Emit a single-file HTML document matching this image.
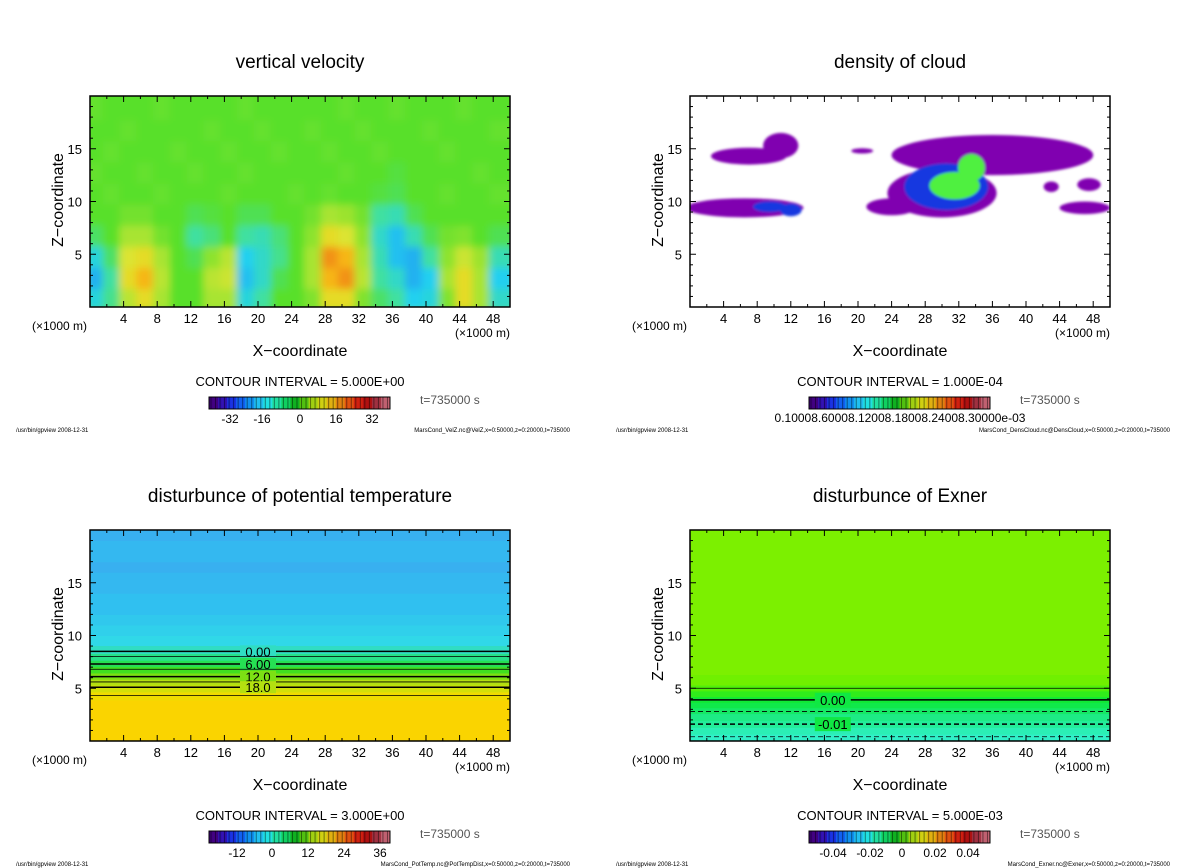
<!DOCTYPE html>
<html><head><meta charset="utf-8"><style>
html,body{margin:0;padding:0;background:#fff;}
svg{display:block;font-family:"Liberation Sans","DejaVu Sans",sans-serif;}
</style></head><body>
<svg id="s" width="1200" height="868" viewBox="0 0 1200 868" xmlns="http://www.w3.org/2000/svg">
<defs>
<filter id="blur" x="-5%" y="-5%" width="110%" height="110%"><feGaussianBlur stdDeviation="4"/></filter>
<filter id="blur2"><feGaussianBlur stdDeviation="1.2"/></filter>
</defs>
</svg>
<script>
// ---------- data ----------
const xTicks=[4,8,12,16,20,24,28,32,36,40,44,48];
const zTicks=[5,10,15];
// vertical velocity grid
const wRowZ=[1,3,5,7,9,11,13,15,17,19];
const wCols=[1,3,5,7,9,11,13,15,17,19,21,23,25,27,29,31,33,35,37,39,41,43,45,47,49];
const wVals=[
[-12,-5,8,14,6,0,0,6,6,-12,-6,0,0,3,14,14,3,-3,-6,-14,-12,3,14,6,-10],
[-18,-6,14,20,8,0,0,8,10,-16,-10,-2,0,6,20,24,8,-6,-10,-18,-14,6,14,6,-14],
[-12,-3,12,14,6,0,-2,4,8,-14,-10,-5,0,6,24,20,6,-8,-16,-18,-6,4,10,5,-8],
[-3,0,6,6,2,0,-6,-4,0,-6,-8,-4,0,4,14,12,4,-10,-16,-8,-2,2,3,0,-2],
[0,0,2,2,0,0,-2,-1,0,-2,-2,0,0,2,6,5,2,-6,-8,-2,0,0,0,0,0],
[0,1,0,0,1,0,0,0,1,0,0,0,1,0,1,0,0,-1,-2,0,0,1,0,0,1],
[1,0,0,1,0,0,1,0,0,1,0,0,0,0,0,1,0,0,-1,0,0,0,0,1,0],
[0,1,0,0,0,1,0,0,1,0,0,1,0,0,1,0,0,1,0,0,0,1,0,0,0],
[0,0,1,0,0,0,0,1,0,0,1,0,0,1,0,0,1,0,0,0,1,0,0,0,1],
[1,0,0,0,1,0,0,0,0,1,0,0,0,0,0,1,0,0,1,0,0,0,1,0,0]];
// cloud blobs
const cloudX=[7,10.8,6.5,20.5,36,30,24,47,47.5,43,30.5,31.5,33.5,9.5,12];
const cloudZ=[14.3,15.3,9.4,14.8,14.4,10.8,9.5,9.4,11.6,11.4,11.4,11.5,13.2,9.5,9.2];
const cloudRX=[4.5,2.1,7,1.3,12,6.5,3,3,1.4,0.9,5,3,1.6,2,1.3];
const cloudRZ=[0.8,1.2,0.9,0.25,1.9,2.3,0.8,0.6,0.6,0.5,2.2,1.3,1.3,0.5,0.6];
const cloudLev=[1,1,1,1,1,1,1,1,1,1,2,3,3,2,2];
// potential temperature row profile
const thZ=[0.5,1.5,2.5,3.5,4.3,5.0,5.6,6.1,6.8,7.3,8.0,8.6,9.5,10.5,11.5,12.5,13.5,14.5,15.5,16.5,17.5,18.5,19.5];
const thV=[30,30,30,30,24,20,17,13,10,6,3,0,-2,-3,-4,-5,-5,-6,-6,-7,-6,-6,-7];
const thLevels=[8.5,8.0,7.3,6.8,6.1,5.6,5.1,4.3];
const thLabels=["0.00","","6.00","","12.0","","18.0",""];
// exner profile
const exZ=[0.3,1.0,1.6,2.3,2.9,3.4,3.9,4.5,5.0,5.6,7,10,15,20];
const exV=[-0.018,-0.016,-0.013,-0.011,-0.008,-0.005,-0.002,0.001,0.003,0.005,0.006,0.006,0.006,0.006];
const exLevels=[5.0,3.9,2.8,1.6,0.4];
const exDash=[false,false,true,true,true];
const exLabels=["","0.00","","-0.01",""];
const cb1=["-32","-16","0","16","32"];
const cb3=["-12","0","12","24","36"];
const cb4=["-0.04","-0.02","0","0.02","0.04"];

// ---------- helpers ----------
const NS="http://www.w3.org/2000/svg";
const svg=document.getElementById('s');
function el(tag,attrs,parent,text){const e=document.createElementNS(NS,tag);for(const k in attrs)e.setAttribute(k,attrs[k]);if(text!==undefined)e.textContent=text;(parent||svg).appendChild(e);return e;}
function hex(c){return [parseInt(c.slice(1,3),16),parseInt(c.slice(3,5),16),parseInt(c.slice(5,7),16)];}
function cmap(stops,v){if(v<=stops[0][0])return stops[0][1];for(let i=1;i<stops.length;i++){if(v<=stops[i][0]){const t=(v-stops[i-1][0])/(stops[i][0]-stops[i-1][0]);const a=hex(stops[i-1][1]),b=hex(stops[i][1]);return 'rgb('+a.map((x,j)=>Math.round(x+(b[j]-x)*t)).join(',')+')';}}return stops[stops.length-1][1];}
const rainbow=["#400080","#3010b0","#1830e0","#1060f0","#1090f0","#20c0f0","#20e0e0","#20e0a0","#10d060","#10b020","#50c010","#a0d010","#d0d010","#e0b010","#e08010","#e05010","#d02010","#b01010","#a03040","#c06070"];

function panel(oy,ox,title,cinterval,cbLabels,cbTicks,foot){
  const X0=ox+90,X1=ox+510,Y0=oy+96,Y1=oy+307;
  const g=el('g',{});
  const sx=x=>X0+(X1-X0)*x/50, sz=z=>Y1-(Y1-Y0)*z/20;
  el('text',{x:ox+300,y:oy+68,'font-size':19,'text-anchor':'middle',},g,title);
  const clipId='c'+ox+'_'+oy;
  const cp=el('clipPath',{id:clipId},g);el('rect',{x:X0,y:Y0,width:X1-X0,height:Y1-Y0},cp);
  const plot=el('g',{'clip-path':'url(#'+clipId+')',},g);
  const ax={g,plot,sx,sz,X0,X1,Y0,Y1};
  ax.finish=function(){
    el('rect',{x:X0,y:Y0,width:X1-X0,height:Y1-Y0,fill:'none',stroke:'#000','stroke-width':1.5,},g);
    for(let x=2;x<50;x+=2){const L=(x%4===0)?6:3;el('line',{x1:sx(x),x2:sx(x),y1:Y1,y2:Y1-L,stroke:'#000'},g);el('line',{x1:sx(x),x2:sx(x),y1:Y0,y2:Y0+L,stroke:'#000'},g);}
    for(let z=1;z<20;z++){const L=(z%5===0)?6:3;el('line',{x1:X0,x2:X0+L,y1:sz(z),y2:sz(z),stroke:'#000'},g);el('line',{x1:X1,x2:X1-L,y1:sz(z),y2:sz(z),stroke:'#000'},g);}
    xTicks.forEach(t=>{const e=el('text',{x:sx(t),y:Y1+16,'font-size':13,'text-anchor':'middle'},g,String(t));});
    zTicks.forEach(t=>{const e=el('text',{x:X0-8,y:sz(t)+5,'font-size':13,'text-anchor':'end'},g,String(t));});
    el('text',{x:ox+32,y:oy+330,'font-size':12,},g,'(×1000 m)');
    el('text',{x:ox+455,y:oy+337,'font-size':12,},g,'(×1000 m)');
    el('text',{x:ox+300,y:oy+356,'font-size':16,'text-anchor':'middle',},g,'X−coordinate');
    el('text',{x:ox+63,y:oy+200,'font-size':16,'text-anchor':'middle',transform:'rotate(-90 '+(ox+63)+' '+(oy+200)+')',},g,'Z−coordinate');
    el('text',{x:ox+300,y:oy+386,'font-size':13,'text-anchor':'middle',},g,'CONTOUR INTERVAL = '+cinterval);
    const cb=el('g',{},g);
    const bx0=ox+209,bx1=ox+390,by=oy+397,bh=12,n=40;
    for(let i=0;i<n;i++){const c=rainbow[Math.floor(i*rainbow.length/n)];el('rect',{x:bx0+(bx1-bx0)*i/n,y:by,width:(bx1-bx0)/n+0.3,height:bh,fill:c},cb);el('line',{x1:bx0+(bx1-bx0)*i/n+2,x2:bx0+(bx1-bx0)*i/n+2,y1:by,y2:by+bh,stroke:'rgba(0,0,0,0.45)','stroke-width':1},cb);}
    el('rect',{x:bx0,y:by,width:bx1-bx0,height:bh,fill:'none',stroke:'#000'},cb);
    if(cbLabels.length===1){el('text',{x:ox+300,y:oy+422,'font-size':12,'text-anchor':'middle',},g,cbLabels[0]);}
    else cbLabels.forEach((t,i)=>{const e=el('text',{x:ox+cbTicks[i],y:oy+423,'font-size':12,'text-anchor':'middle'},g,t);});
    el('text',{x:ox+420,y:oy+404,'font-size':12,fill:'#555',},g,'t=735000  s');
    el('text',{x:ox+16,y:oy+432,'font-size':6,},g,'/usr/bin/gpview   2008-12-31');
    el('text',{x:ox+570,y:oy+432,'font-size':6,'text-anchor':'end',},g,foot);
  };
  return ax;
}

// ---- Panel 1
const wStops=[[-40,"#5000a0"],[-30,"#1030e0"],[-20,"#20a0f0"],[-14,"#20d0f0"],[-6,"#40e0a0"],[0,"#58e02c"],[6,"#a8e430"],[12,"#dce430"],[18,"#f8c818"],[26,"#f08010"],[40,"#e02040"]];
const p1=panel(0,0,'vertical velocity','5.000E+00',cb1,[230,262,300,336,372],'MarsCond_VelZ.nc@VelZ,x=0:50000,z=0:20000,t=735000');
{const hg=el('g',{filter:'url(#blur)'},p1.plot);
 el('rect',{x:p1.X0-20,y:p1.Y0-20,width:460,height:260,fill:cmap(wStops,0)},hg);
 wRowZ.forEach((z,r)=>wCols.forEach((x,c)=>{const e=el('rect',{x:p1.sx(x-1.5),y:p1.sz(z+1.3),width:p1.sx(3)-p1.sx(0),height:p1.sz(0)-p1.sz(2.6),fill:cmap(wStops,wVals[r][c])},hg);}));}
p1.finish();

// ---- Panel 2
const cStops=[[1,"#8000b0"],[2,"#1838e0"],[3,"#50f040"]];
const p2=panel(0,600,'density of cloud','1.000E-04',['0.10008.60008.12008.18008.24008.30000e-03'],[],'MarsCond_DensCloud.nc@DensCloud,x=0:50000,z=0:20000,t=735000');
{const hg=el('g',{filter:'url(#blur2)'},p2.plot);
 cloudX.forEach((x,i)=>{const e=el('ellipse',{cx:p2.sx(x),cy:p2.sz(cloudZ[i]),rx:p2.sx(cloudRX[i])-p2.sx(0),ry:p2.sz(0)-p2.sz(cloudRZ[i]),fill:cmap(cStops,cloudLev[i])},hg);});}
p2.finish();

// ---- Panel 3
const tStops=[[-8,"#3ca8f0"],[-5,"#30c0f0"],[-2,"#30d8e8"],[1,"#30e0b0"],[5,"#20e060"],[10,"#40e020"],[14,"#90e010"],[18,"#c0e010"],[22,"#e8e000"],[26,"#f8d800"],[30,"#fad400"]];
const p3=panel(434,0,'disturbunce of potential temperature','3.000E+00',cb3,[237,272,308,344,380],'MarsCond_PotTemp.nc@PotTempDist,x=0:50000,z=0:20000,t=735000');
{const hg=el('g',{},p3.plot);
 thZ.forEach((z,i)=>{const top=i<thZ.length-1?(z+thZ[i+1])/2:20.5;const bot=i>0?(z+thZ[i-1])/2:-0.5;const e=el('rect',{x:p3.X0,y:p3.sz(top),width:p3.X1-p3.X0,height:p3.sz(bot)-p3.sz(top)+0.5,fill:cmap(tStops,thV[i])},hg);});
 thLevels.forEach((z,i)=>{const e=el('line',{x1:p3.X0,x2:p3.X1,y1:p3.sz(z),y2:p3.sz(z),stroke:'#000','stroke-width':i%2===0?1.5:0.8},hg);
   if(thLabels[i]){const c=cmap(tStops,thV[thZ.findIndex(v=>v>=z)]);el('rect',{x:p3.sx(20)-18,y:p3.sz(z)-6,width:36,height:12,fill:c},hg);el('text',{x:p3.sx(20),y:p3.sz(z)+5,'font-size':13,'text-anchor':'middle'},hg,thLabels[i]);}});}
p3.finish();

// ---- Panel 4
const eStops=[[-0.018,"#30f0c8"],[-0.012,"#20ec90"],[-0.006,"#10e850"],[-0.001,"#10e830"],[0.002,"#40ee10"],[0.005,"#70f000"],[0.006,"#7cf000"]];
const p4=panel(434,600,'disturbunce of Exner','5.000E-03',cb4,[833,870,902,935,968].map(v=>v-600),'MarsCond_Exner.nc@Exner,x=0:50000,z=0:20000,t=735000');
{const hg=el('g',{},p4.plot);
 exZ.forEach((z,i)=>{const top=i<exZ.length-1?(z+exZ[i+1])/2:20.5;const bot=i>0?(z+exZ[i-1])/2:-0.5;const e=el('rect',{x:p4.X0,y:p4.sz(top),width:p4.X1-p4.X0,height:p4.sz(bot)-p4.sz(top)+0.5,fill:cmap(eStops,exV[i])},hg);});
 exLevels.forEach((z,i)=>{const a={x1:p4.X0,x2:p4.X1,y1:p4.sz(z),y2:p4.sz(z),stroke:'#000','stroke-width':i%2===1?1.5:0.8};if(exDash[i])a['stroke-dasharray']='5,3';const e=el('line',a,hg);
   if(exLabels[i]){el('rect',{x:p4.sx(17)-18,y:p4.sz(z)-7,width:36,height:14,fill:cmap(eStops,-0.004)},hg);el('text',{x:p4.sx(17),y:p4.sz(z)+5,'font-size':13,'text-anchor':'middle'},hg,exLabels[i]);}});}
p4.finish();
</script>
</body></html>
